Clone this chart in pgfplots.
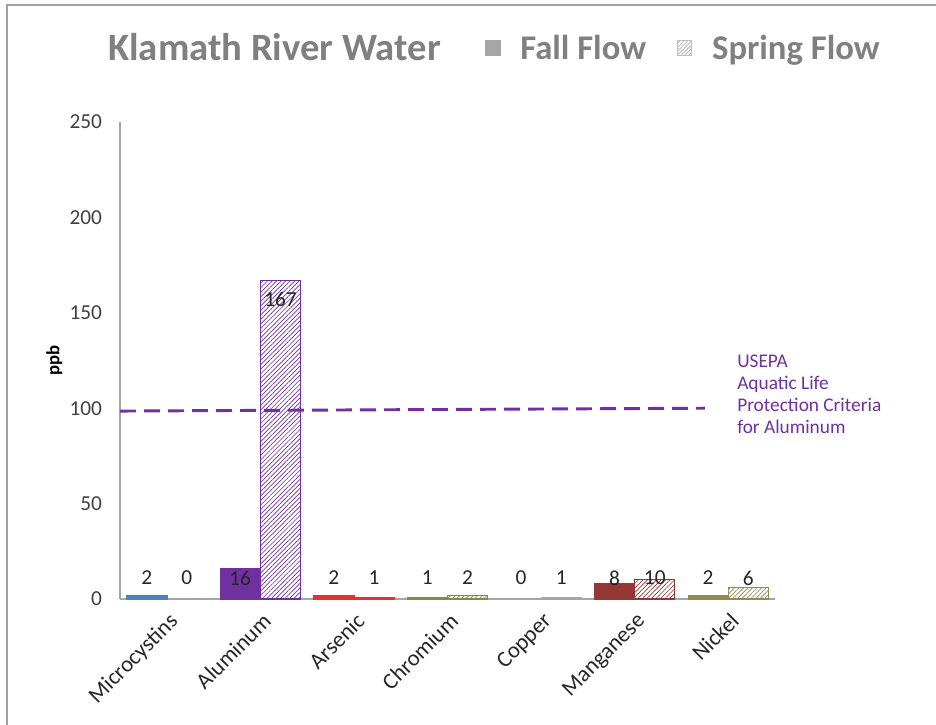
\documentclass[border=0pt]{standalone}
\usepackage{fontspec}
\setmainfont{Carlito}
\usepackage{pgfplots}
\pgfplotsset{compat=1.18}
\usetikzlibrary{patterns.meta}

\definecolor{titlegray}{HTML}{808080}
\definecolor{axisgray}{HTML}{A6A6A6}
\definecolor{framegray}{HTML}{A0A0A0}
\definecolor{ticktext}{HTML}{404040}
\definecolor{cMicro}{HTML}{4F81BD}
\definecolor{cAlum}{HTML}{7030A0}
\definecolor{cArsen}{HTML}{E8312F}
\definecolor{cChrom}{HTML}{77933C}
\definecolor{cCopper}{HTML}{A6A6A6}
\definecolor{cMang}{HTML}{953735}
\definecolor{cNickel}{HTML}{948A54}
\definecolor{usepa}{HTML}{7030A0}

\pgfplotsset{
  fallbar/.style={ybar, bar width=0.43, bar shift=-0.215, fill=#1, draw=#1, line width=0.4pt},
  springbar/.style={ybar, bar width=0.43, bar shift=0.215, draw=#1, line width=0.8pt,
    pattern={Lines[angle=45,distance=2.4pt,line width=0.5pt]}, pattern color=#1},
  sq/.style={legend image code/.code={\draw[##1] (0pt,-5.5pt) rectangle (11pt,5.5pt);}},
}

\begin{document}
\begin{tikzpicture}
\useasboundingbox (0,0) rectangle (702pt,-543.75pt);
% frame of the picture
\draw[framegray, line width=1.5pt] (5.25pt,-543.75pt) -- (5.25pt,-3.75pt) -- (702pt,-3.75pt);

\node[anchor=base west, inner sep=0, text=titlegray,
      font=\fontsize{29}{32}\selectfont\bfseries] at (81pt,-45pt) {Klamath River Water};

\begin{axis}[
  at={(90pt,-449.25pt)}, anchor=south west,
  scale only axis, width=491.25pt, height=357.75pt,
  xmin=-0.5, xmax=6.5, ymin=0, ymax=250,
  xtick={0,...,6},
  xticklabels={Microcystins,Aluminum,Arsenic,Chromium,Copper,Manganese,Nickel},
  ytick={0,50,...,250},
  axis lines*=left,
  axis line style={-, draw=axisgray, line width=0.9pt},
  major tick length=0pt,
  /pgf/number format/assume math mode=true,
  tick label style={font=\fontsize{16}{18}\selectfont, text=ticktext},
  yticklabel style={anchor=east, xshift=-10pt},
  xticklabel style={font=\fontsize{17}{19}\selectfont, text=black!85, rotate=45,
    anchor=north east, inner sep=1pt, xshift=-5pt, yshift=-6pt},
  ylabel={ppb},
  ylabel style={font=\fontsize{14}{16}\selectfont\bfseries, text=black, yshift=-1.5pt},
  clip=false,
  legend style={at={(0.551,1.155)}, anchor=west, draw=none, fill=none,
    font=\fontsize{26}{30}\selectfont\bfseries, text=titlegray,
    legend columns=2,
    /tikz/every odd column/.append style={column sep=13pt},
    /tikz/every even column/.append style={column sep=21pt},
    legend cell align=left},
]
\addlegendimage{sq, fill=axisgray, draw=axisgray}
\addlegendentry{Fall Flow}
\addlegendimage{sq, draw=axisgray!70, line width=0.6pt,
  pattern={Lines[angle=45,distance=2pt,line width=0.5pt]}, pattern color=axisgray}
\addlegendentry{Spring Flow}

% Fall flow bars
\addplot[fallbar=cMicro]  coordinates {(0,2)};
\addplot[fallbar=cAlum]   coordinates {(1,16)};
\addplot[fallbar=cArsen]  coordinates {(2,2)};
\addplot[fallbar=cChrom]  coordinates {(3,1)};
\addplot[fallbar=cCopper, draw=none] coordinates {(4,0)};
\addplot[fallbar=cMang]   coordinates {(5,8)};
\addplot[fallbar=cNickel] coordinates {(6,2)};
% Spring flow bars
\addplot[springbar=cMicro, draw=none]  coordinates {(0,0)};
\addplot[springbar=cAlum]   coordinates {(1,167)};
\addplot[springbar=cArsen]  coordinates {(2,1)};
\addplot[springbar=cChrom]  coordinates {(3,2)};
\addplot[springbar=cCopper] coordinates {(4,1)};
\addplot[springbar=cMang]   coordinates {(5,10)};
\addplot[springbar=cNickel] coordinates {(6,6)};

% value labels
\addplot[draw=none, mark=none, nodes near coords, point meta=explicit symbolic,
  nodes near coords style={anchor=center, font=\fontsize{16}{18}\selectfont, text=black!85}]
  coordinates {
  (-0.215,11) [2] (0.215,11) [0]
  (0.785,11) [16] (1.215,157) [167]
  (1.785,11) [2] (2.215,11) [1]
  (2.785,11) [1] (3.215,11) [2]
  (3.785,11) [0] (4.215,11) [1]
  (4.785,11) [8] (5.215,11) [10]
  (5.785,11) [2] (6.215,11) [6]
  };

% USEPA criterion
\addplot[usepa, line width=2.2pt, dash pattern=on 12pt off 6pt]
  coordinates {(-0.5,98.5) (5.75,100)};
\end{axis}

\node[anchor=north west, align=left, inner sep=0, text=usepa,
      font=\fontsize{14.5}{16.5}\selectfont] at (552.75pt,-266pt)
  {USEPA\\Aquatic Life\\Protection Criteria\\for Aluminum};
\end{tikzpicture}
\end{document}
